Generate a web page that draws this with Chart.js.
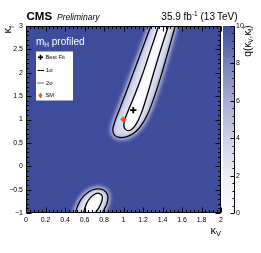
<!DOCTYPE html>
<html>
<head>
<meta charset="utf-8">
<script src="https://cdn.jsdelivr.net/npm/chart.js@4.4.1/dist/chart.umd.min.js"></script>
<style>
  html, body { margin: 0; padding: 0; background: #fff; }
  canvas { display: block; }
</style>
</head>
<body>
<canvas id="chart" width="261" height="253"></canvas>
<script>
// axis ticks
const kvTicks = [0, 0.2, 0.4, 0.6, 0.8, 1, 1.2, 1.4, 1.6, 1.8, 2];
const kfTicks = [-1, -0.5, 0, 0.5, 1, 1.5, 2, 2.5, 3];
const qTicks = [0, 2, 4, 6, 8, 10];

// best fit and SM points [kV, kf]
const bestFit = [1.1, 1.2];
const smPoint = [1.0, 1.0];

// contours, [kV, kf]
const mainTwoSigma = [[1.28, 3.0], [1.20, 2.55], [1.11, 2.05], [1.03, 1.60], [0.96, 1.22], [0.91, 0.95],
  [0.89, 0.78], [0.91, 0.66], [0.96, 0.615], [1.03, 0.63], [1.10, 0.70], [1.17, 0.84], [1.24, 1.08],
  [1.31, 1.45], [1.38, 1.90], [1.45, 2.40], [1.53, 3.0]];
const mainOneSigma = [[1.36, 3.0], [1.28, 2.50], [1.20, 2.00], [1.12, 1.55], [1.05, 1.20], [1.01, 0.97],
  [1.005, 0.84], [1.03, 0.77], [1.08, 0.78], [1.13, 0.90], [1.18, 1.12], [1.24, 1.50], [1.31, 2.00],
  [1.39, 2.55], [1.46, 3.0]];
const lowTwoSigma = [[0.505, -1.0], [0.54, -0.80], [0.59, -0.64], [0.65, -0.54], [0.71, -0.49], [0.77, -0.49],
  [0.82, -0.55], [0.84, -0.65], [0.83, -0.80], [0.80, -0.93], [0.78, -1.0]];
const lowOneSigma = [[0.59, -1.0], [0.62, -0.80], [0.66, -0.67], [0.71, -0.59], [0.75, -0.58], [0.78, -0.63],
  [0.78, -0.73], [0.75, -0.88], [0.71, -1.0]];

const BLUE = 'rgb(62,76,156)';
const SM_COLOR = '#ff5020';
const FONT = '"Liberation Sans", Arial, sans-serif';
Chart.defaults.font.family = FONT;

const toXY = pts => pts.map(p => ({ x: p[0], y: p[1] }));
const fmt = v => String(+v.toFixed(2)).replace('-', '\u2212');

const contourLine = (pts) => ({
  data: toXY(pts), showLine: true, fill: false, pointRadius: 0,
  borderColor: '#000', borderWidth: 1.3, tension: 0.35, order: 3
});
const contourFill = (pts, color, blur, glow, glowColor, order) => ({
  data: toXY(pts), showLine: true, fill: false, pointRadius: 0,
  borderColor: 'rgba(0,0,0,0)', borderWidth: 1, tension: 0.35, order,
  fillColor: color, blur, glow, glowColor
});

const datasets = [
  { data: [{ x: bestFit[0], y: bestFit[1] }], pointStyle: 'cross', pointRadius: 3.2,
    borderColor: '#000', borderWidth: 1.9, order: 1 },
  { data: [{ x: smPoint[0], y: smPoint[1] }], pointStyle: 'rectRot', pointRadius: 3,
    backgroundColor: SM_COLOR, borderColor: SM_COLOR, borderWidth: 0.5, order: 2 },
  contourLine(mainTwoSigma),
  contourLine(mainOneSigma),
  contourLine(lowTwoSigma),
  contourLine(lowOneSigma),
  contourFill(mainOneSigma, '#ffffff', 2.5, 0, null, 5),
  contourFill(lowOneSigma, '#ffffff', 2.5, 0, null, 5),
  contourFill(mainTwoSigma, 'rgb(214,217,238)', 2, 5, 'rgba(175,182,222,0.9)', 6),
  contourFill(lowTwoSigma, 'rgb(214,217,238)', 2, 5, 'rgba(175,182,222,0.9)', 6)
];

// blue background of the scan
const background = {
  id: 'background',
  beforeDatasetsDraw(chart) {
    const { ctx, chartArea: a } = chart;
    ctx.save();
    ctx.fillStyle = BLUE;
    ctx.fillRect(a.left, a.top, a.right - a.left, a.bottom - a.top);
    ctx.restore();
  }
};

// soft filled regions inside the contours
const bandFill = {
  id: 'bandFill',
  beforeDatasetDraw(chart, args) {
    const ds = chart.data.datasets[args.index];
    if (!ds.fillColor) return;
    const line = args.meta.dataset;
    const { ctx, chartArea: a } = chart;
    line.updateControlPoints(a, 'x');
    ctx.save();
    ctx.beginPath();
    ctx.rect(a.left, a.top, a.right - a.left, a.bottom - a.top);
    ctx.clip();
    ctx.filter = 'blur(' + ds.blur + 'px)';
    if (ds.glow) {
      ctx.beginPath();
      line.path(ctx);
      ctx.closePath();
      ctx.lineWidth = ds.glow;
      ctx.strokeStyle = ds.glowColor;
      ctx.stroke();
    }
    ctx.beginPath();
    line.path(ctx);
    ctx.closePath();
    ctx.fillStyle = ds.fillColor;
    ctx.fill();
    ctx.restore();
  }
};

const tickLine = (ctx, x0, y0, x1, y1) => {
  ctx.beginPath(); ctx.moveTo(x0, y0); ctx.lineTo(x1, y1); ctx.stroke();
};

// frame and inward ticks on all four sides
const frame = {
  id: 'frame',
  afterDatasetsDraw(chart) {
    const { ctx, chartArea: a, scales } = chart;
    const L = Math.round(a.left) + 0.5, R = Math.round(a.right) - 0.5;
    const T = Math.round(a.top) + 0.5, B = Math.round(a.bottom) - 0.5;
    ctx.save();
    ctx.strokeStyle = '#000';
    ctx.lineWidth = 1;
    ctx.strokeRect(L, T, R - L, B - T);
    for (let i = 0; i < kvTicks.length; i++) {
      const v = kvTicks[i];
      const px = Math.round(scales.x.getPixelForValue(v)) + 0.5;
      tickLine(ctx, px, B, px, B - 5);
      tickLine(ctx, px, T, px, T + 5);
      if (i < kvTicks.length - 1) {
        const step = (kvTicks[i + 1] - v) / 5;
        for (let k = 1; k < 5; k++) {
          const m = Math.round(scales.x.getPixelForValue(v + k * step)) + 0.5;
          tickLine(ctx, m, B, m, B - 2.5);
          tickLine(ctx, m, T, m, T + 2.5);
        }
      }
    }
    for (let i = 0; i < kfTicks.length; i++) {
      const v = kfTicks[i];
      const py = Math.round(scales.y.getPixelForValue(v)) + 0.5;
      tickLine(ctx, L, py, L + 5, py);
      tickLine(ctx, R, py, R - 5, py);
      if (i < kfTicks.length - 1) {
        const step = (kfTicks[i + 1] - v) / 5;
        for (let k = 1; k < 5; k++) {
          const m = Math.round(scales.y.getPixelForValue(v + k * step)) + 0.5;
          tickLine(ctx, L, m, L + 2.5, m);
          tickLine(ctx, R, m, R - 2.5, m);
        }
      }
    }
    ctx.restore();
  }
};

// palette bar on the right
const colorBar = {
  id: 'colorBar',
  afterDraw(chart) {
    const { ctx, chartArea: a, scales } = chart;
    const q = scales.q;
    const x0 = Math.round(a.right) + 2, x1 = Math.round(a.right) + 13;
    const top = q.getPixelForValue(10), bot = q.getPixelForValue(0);
    const g = ctx.createLinearGradient(0, bot, 0, top);
    g.addColorStop(0, '#ffffff');
    g.addColorStop(0.2, 'rgb(236,237,246)');
    g.addColorStop(0.4, 'rgb(206,209,231)');
    g.addColorStop(0.6, 'rgb(166,172,212)');
    g.addColorStop(0.8, 'rgb(118,128,186)');
    g.addColorStop(1, BLUE);
    ctx.save();
    ctx.fillStyle = g;
    ctx.fillRect(x0, top, x1 - x0, bot - top);
    ctx.strokeStyle = '#000';
    ctx.lineWidth = 1;
    const ax = x1 + 0.5;
    tickLine(ctx, ax, top, ax, bot);
    for (let i = 0; i < qTicks.length; i++) {
      const v = qTicks[i];
      const py = Math.round(q.getPixelForValue(v)) + 0.5;
      tickLine(ctx, ax, py, ax - 4, py);
      if (i < qTicks.length - 1) {
        const step = (qTicks[i + 1] - v) / 5;
        for (let k = 1; k < 5; k++) {
          const m = Math.round(q.getPixelForValue(v + k * step)) + 0.5;
          tickLine(ctx, ax, m, ax - 2, m);
        }
      }
    }
    ctx.restore();
  }
};

const drawRich = (ctx, parts, x, y, align) => {
  let w = 0;
  parts.forEach(p => { ctx.font = p.font; p.w = ctx.measureText(p.t).width; w += p.w; });
  let cx = align === 'right' ? x - w : x;
  parts.forEach(p => { ctx.font = p.font; ctx.fillText(p.t, cx, y + (p.dy || 0)); cx += p.w; });
};
const f = (size, style) => (style ? style + ' ' : '') + size + 'px ' + FONT;

// texts, legend and axis titles
const labels = {
  id: 'labels',
  afterDraw(chart) {
    const { ctx } = chart;
    ctx.save();
    ctx.textAlign = 'left';
    ctx.textBaseline = 'alphabetic';
    ctx.fillStyle = '#000';
    drawRich(ctx, [{ t: 'CMS', font: f(11.5, 'bold') }], 26.5, 19.5, 'left');
    drawRich(ctx, [{ t: 'Preliminary', font: f(8.5, 'italic') }], 57, 19.5, 'left');
    drawRich(ctx, [
      { t: '35.9 fb', font: f(10) },
      { t: '-1', font: f(6.5), dy: -4 },
      { t: ' (13\u2009TeV)', font: f(10) }
    ], 237.5, 19.5, 'right');

    ctx.fillStyle = '#fff';
    drawRich(ctx, [
      { t: 'm', font: f(10) },
      { t: 'H', font: f(6.5), dy: 2.5 },
      { t: ' profiled', font: f(10) }
    ], 36, 44.5, 'left');

    // legend box
    ctx.fillStyle = '#fff';
    ctx.fillRect(36, 51.5, 37, 49);
    ctx.fillStyle = '#000';
    ctx.strokeStyle = '#000';
    ctx.lineWidth = 1.6;
    tickLine(ctx, 38, 57.3, 43, 57.3);
    tickLine(ctx, 40.5, 54.8, 40.5, 59.8);
    ctx.lineWidth = 1.1;
    tickLine(ctx, 37.5, 70.5, 44, 70.5);
    ctx.setLineDash([1, 1]);
    tickLine(ctx, 37.5, 83, 44, 83);
    ctx.setLineDash([]);
    ctx.fillStyle = SM_COLOR;
    ctx.beginPath();
    ctx.moveTo(40.5, 92.5); ctx.lineTo(42.5, 95.5); ctx.lineTo(40.5, 98.5); ctx.lineTo(38.5, 95.5);
    ctx.closePath(); ctx.fill();
    ctx.fillStyle = '#000';
    ctx.textBaseline = 'middle';
    ctx.font = f(5.7);
    ctx.fillText('Best Fit', 45.5, 57.5);
    ctx.fillText('1\u03c3', 46, 70.7);
    ctx.fillText('2\u03c3', 46, 83.2);
    ctx.fillText('SM', 45.5, 95.7);
    ctx.textBaseline = 'alphabetic';

    // x title
    drawRich(ctx, [
      { t: '\u03ba', font: f(11) },
      { t: 'V', font: f(7.5), dy: 2.5 }
    ], 221, 233.5, 'right');

    // y title, rotated
    ctx.save();
    ctx.translate(11, 26);
    ctx.rotate(-Math.PI / 2);
    drawRich(ctx, [
      { t: '\u03ba', font: f(11) },
      { t: 'f', font: f(7.5), dy: 2.5 }
    ], 0, 0, 'right');
    ctx.restore();

    // palette title, rotated
    ctx.save();
    ctx.translate(251, 25.5);
    ctx.rotate(-Math.PI / 2);
    drawRich(ctx, [
      { t: 'q(\u03ba', font: f(10) },
      { t: 'V', font: f(6.5), dy: 2 },
      { t: ',\u03ba', font: f(10) },
      { t: 'f', font: f(6.5), dy: 2 },
      { t: ')', font: f(10) }
    ], 0, 0, 'right');
    ctx.restore();
    ctx.restore();
  }
};

new Chart(document.getElementById('chart'), {
  type: 'scatter',
  data: { datasets },
  options: {
    responsive: false,
    animation: false,
    devicePixelRatio: 1,
    events: [],
    layout: { padding: { top: 26, left: 0, right: 0, bottom: 0 } },
    plugins: { legend: { display: false }, tooltip: { enabled: false } },
    scales: {
      x: {
        type: 'linear', position: 'bottom', min: 0, max: 2,
        grid: { display: false, drawTicks: false }, border: { display: false },
        afterBuildTicks: s => { s.ticks = kvTicks.map(v => ({ value: v })); },
        afterFit: s => { s.height = 40; },
        ticks: { padding: 3, maxRotation: 0, autoSkip: false, color: '#000', font: { size: 7 }, callback: v => fmt(v) }
      },
      y: {
        type: 'linear', position: 'left', min: -1, max: 3,
        grid: { display: false, drawTicks: false }, border: { display: false },
        afterBuildTicks: s => { s.ticks = kfTicks.map(v => ({ value: v })); },
        afterFit: s => { s.width = 26; },
        ticks: { padding: 3, autoSkip: false, color: '#000', font: { size: 7 }, callback: v => fmt(v) }
      },
      q: {
        type: 'linear', position: 'right', min: 0, max: 10,
        grid: { display: false, drawTicks: false }, border: { display: false },
        afterBuildTicks: s => { s.ticks = qTicks.map(v => ({ value: v })); },
        afterFit: s => { s.width = 40; },
        ticks: { padding: 15, autoSkip: false, color: '#000', font: { size: 7 }, callback: v => fmt(v) }
      }
    }
  },
  plugins: [background, bandFill, frame, colorBar, labels]
});
</script>
</body>
</html>
